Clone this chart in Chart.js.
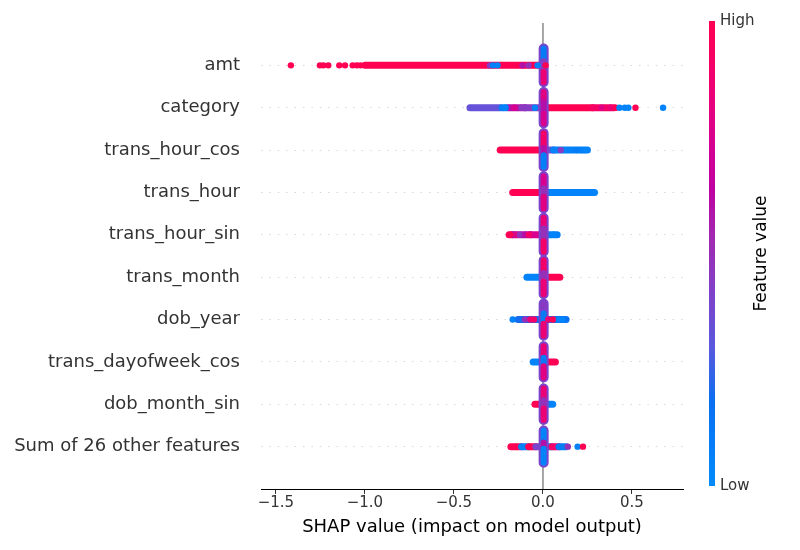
<!DOCTYPE html>
<html>
<head>
<meta charset="utf-8">
<script src="https://cdn.jsdelivr.net/npm/chart.js@4.4.1/dist/chart.umd.min.js"></script>
<style>
html, body { margin: 0; padding: 0; background: #fff; }
#wrap { width: 800px; height: 550px; }
</style>
</head>
<body>
<div id="wrap"><canvas id="shapChart" width="800" height="550"></canvas></div>
<script>
// features, top to bottom (row index = position)
var features = ["amt", "category", "trans_hour_cos", "trans_hour", "trans_hour_sin",
                "trans_month", "dob_year", "trans_dayofweek_cos", "dob_month_sin",
                "Sum of 26 other features"];
var xTicks = [-1.5, -1.0, -0.5, 0.0, 0.5];

// dense runs of points along each row: [shap from, shap to, feature value 0..1]
var bandRuns = [
    [[-1.0, -0.02, 1]],
    [[-0.41, -0.24, 0.33], [-0.23, -0.20, 0.08], [-0.19, -0.10, 0.6], [-0.10, -0.02, 0.45],
     [0.02, 0.28, 1], [0.28, 0.40, 0.92]],
    [[-0.24, -0.02, 1], [0.02, 0.06, 0.35], [0.06, 0.25, 0.06]],
    [[-0.17, -0.02, 1], [0.02, 0.29, 0.05]],
    [[-0.19, -0.17, 0.95], [-0.17, -0.07, 0.6], [-0.07, -0.02, 0.75], [0.02, 0.08, 0.08]],
    [[-0.09, -0.02, 0.05], [0.02, 0.095, 1]],
    [[-0.14, -0.02, 0.2], [0.02, 0.13, 0.15]],
    [[-0.055, -0.02, 0.05], [0.02, 0.07, 1]],
    [[-0.045, -0.02, 1], [0.02, 0.055, 0.05]],
    [[-0.18, -0.12, 1], [-0.12, -0.08, 0.05], [-0.08, -0.04, 1], [-0.04, -0.02, 0.4],
     [0.02, 0.05, 0.05], [0.05, 0.09, 0.9], [0.09, 0.13, 0.1]]
];

// single points away from the runs: [shap, feature value]
var loosePoints = [
    [[-1.416, 1], [-1.253, 1], [-1.234, 1], [-1.206, 1], [-1.144, 1], [-1.112, 1],
     [-1.069, 1], [-1.045, 1], [-1.025, 1], [-0.298, 0.45], [-0.28, 0.08], [-0.255, 0.05],
     [-0.115, 0.6], [-0.08, 0.5], [-0.03, 0.05], [0.015, 1]],
    [[-0.21, 0.05], [-0.16, 0.75], [-0.12, 0.45], [-0.045, 0.05], [0.33, 0.8], [0.38, 0.85],
     [0.41, 1], [0.43, 0.05], [0.46, 0.05], [0.48, 0.05], [0.52, 1], [0.675, 0.05]],
    [[0.10, 0.45], [0.19, 0.1], [0.22, 0.08], [0.235, 0.05]],
    [],
    [[-0.185, 1], [-0.15, 0.8], [-0.13, 0.5], [-0.10, 0.6], [-0.08, 0.9], [0.06, 0.05]],
    [],
    [[-0.17, 0.05], [-0.10, 0.5], [-0.07, 0.85], [-0.05, 0.9], [0.03, 0.85], [0.056, 1],
     [0.09, 0.05], [0.11, 0.05]],
    [],
    [],
    [[0.14, 0.5], [0.195, 0.05], [0.225, 1]]
];

// vertical pile of points at shap ~ 0: [row offset from, row offset to, feature value]
var zeroPiles = [
    [[-0.40, -0.12, 0.1], [-0.10, 0.12, 0.45], [0.15, 0.40, 0.85]],
    [[-0.37, -0.15, 0.8], [-0.13, 0.13, 0.6], [0.15, 0.37, 0.75]],
    [[-0.40, -0.05, 0.9], [-0.05, 0.10, 0.6], [0.12, 0.40, 0.08]],
    [[-0.38, -0.10, 0.75], [-0.10, 0.10, 0.5], [0.10, 0.38, 0.8]],
    [[-0.40, -0.15, 0.85], [-0.15, 0.15, 0.5], [0.15, 0.40, 0.9]],
    [[-0.40, -0.10, 0.9], [-0.10, 0.10, 0.5], [0.10, 0.40, 0.85]],
    [[-0.38, -0.15, 0.45], [-0.15, 0.10, 0.1], [0.10, 0.38, 0.85]],
    [[-0.37, -0.10, 0.85], [-0.10, 0.10, 0.1], [0.10, 0.37, 0.8]],
    [[-0.37, -0.10, 0.85], [-0.10, 0.10, 0.5], [0.10, 0.37, 0.85]],
    [[-0.38, -0.10, 0.05], [-0.10, 0.05, 0.6], [0.05, 0.38, 0.05]]
];
var pileShap = 0.004;

// blue -> purple -> red colour map
var cmapStops = [[0, "#008bfb"], [0.18, "#0a6ff2"], [0.30, "#5a58dd"], [0.42, "#8040c8"],
                 [0.53, "#a02ab2"], [0.64, "#c000a2"], [0.75, "#d8008e"], [0.87, "#f00070"],
                 [1, "#ff0052"]];

function hexRgb(h) {
    return [parseInt(h.substr(1, 2), 16), parseInt(h.substr(3, 2), 16), parseInt(h.substr(5, 2), 16)];
}
function shapColor(t) {
    for (var i = 1; i < cmapStops.length; i++) {
        if (t <= cmapStops[i][0]) {
            var a = cmapStops[i - 1], b = cmapStops[i];
            var f = (t - a[0]) / (b[0] - a[0]);
            var ca = hexRgb(a[1]), cb = hexRgb(b[1]);
            var c = ca.map(function (v, k) { return Math.round(v + (cb[k] - v) * f); });
            return "rgb(" + c.join(",") + ")";
        }
    }
    return cmapStops[cmapStops.length - 1][1];
}

function lineSet(p0, p1, color, width) {
    return {
        data: [p0, p1], showLine: true, pointRadius: 0, borderColor: color,
        borderWidth: width, borderCapStyle: "round", fill: false
    };
}

var datasets = [];
// zero line
datasets.push(lineSet({x: 0, y: -1}, {x: 0, y: 10}, "#999999", 1));
datasets[0].borderCapStyle = "butt";

// horizontal runs
bandRuns.forEach(function (runs, row) {
    runs.forEach(function (r) {
        datasets.push(lineSet({x: r[0], y: row}, {x: r[1], y: row}, shapColor(r[2]), 7));
    });
});

// piles at zero: purple outline, then coloured inside
zeroPiles.forEach(function (pile, row) {
    var top = pile[0][0], bottom = pile[pile.length - 1][1];
    datasets.push(lineSet({x: pileShap, y: row + top}, {x: pileShap, y: row + bottom}, shapColor(0.4), 10));
    pile.forEach(function (p) {
        datasets.push(lineSet({x: pileShap, y: row + p[0]}, {x: pileShap, y: row + p[1]}, shapColor(p[2]), 6));
    });
});

// loose points
var ptData = [], ptColors = [];
loosePoints.forEach(function (pts, row) {
    pts.forEach(function (p) {
        ptData.push({x: p[0], y: row});
        ptColors.push(shapColor(p[1]));
    });
});
datasets.push({
    data: ptData, pointRadius: 3.2, pointBorderWidth: 0,
    pointBackgroundColor: ptColors, showLine: false
});

// later datasets drawn on top
datasets.forEach(function (d, i) { d.order = datasets.length - i; });

var colorBar = {
    id: "colorBar",
    afterDraw: function (chart) {
        var ctx = chart.ctx;
        var top = 21, bottom = 486, left = 709, w = 6;
        var g = ctx.createLinearGradient(0, bottom, 0, top);
        cmapStops.forEach(function (s) { g.addColorStop(s[0], s[1]); });
        ctx.save();
        ctx.fillStyle = g;
        ctx.fillRect(left, top, w, bottom - top);
        ctx.fillStyle = "#333333";
        ctx.font = "15px 'DejaVu Sans'";
        ctx.textAlign = "left";
        ctx.textBaseline = "middle";
        ctx.fillText("High", left + w + 5, top);
        ctx.fillText("Low", left + w + 5, bottom);
        ctx.translate(762, (top + bottom) / 2);
        ctx.rotate(-Math.PI / 2);
        ctx.textAlign = "center";
        ctx.fillStyle = "#000000";
        ctx.font = "17px 'DejaVu Sans'";
        ctx.fillText("Feature value", 0, 0);
        ctx.restore();
    }
};

var shapChart = new Chart(document.getElementById("shapChart").getContext("2d"), {
    type: "scatter",
    data: { datasets: datasets },
    plugins: [colorBar],
    options: {
        responsive: false,
        animation: false,
        layout: { padding: { left: 0, right: 117, top: 23, bottom: 0 } },
        plugins: { legend: { display: false }, tooltip: { enabled: false } },
        scales: {
            x: {
                type: "linear", min: -1.584, max: 0.787,
                afterBuildTicks: function (s) { s.ticks = xTicks.map(function (v) { return {value: v}; }); },
                afterFit: function (s) { s.height = 61; s.paddingLeft = 0; s.paddingRight = 0; },
                grid: { drawOnChartArea: false, drawTicks: true, tickLength: 5, tickColor: "#333333", tickWidth: 1 },
                border: { display: true, color: "#000000", width: 1 },
                ticks: {
                    color: "#333333", font: { family: "DejaVu Sans", size: 15 }, padding: 0, maxRotation: 0,
                    callback: function (v) { return (v < 0 ? "\u2212" : "") + Math.abs(v).toFixed(1); }
                },
                title: {
                    display: true, text: "SHAP value (impact on model output)", color: "#000000",
                    font: { family: "DejaVu Sans", size: 18 }, padding: { top: 0, bottom: 12 }
                }
            },
            y: {
                type: "linear", min: -1, max: 10, reverse: true,
                afterBuildTicks: function (s) { s.ticks = features.map(function (f, i) { return {value: i}; }); },
                afterFit: function (s) { s.width = 261; s.paddingTop = 0; s.paddingBottom = 0; },
                grid: { drawTicks: false, color: "#cccccc", lineWidth: 0.8 },
                border: { display: false, dash: [1.4, 7] },
                ticks: {
                    color: "#333333", font: { family: "DejaVu Sans", size: 18 }, padding: 21,
                    callback: function (v) { return features[v]; }
                }
            }
        }
    }
});
</script>
</body>
</html>
